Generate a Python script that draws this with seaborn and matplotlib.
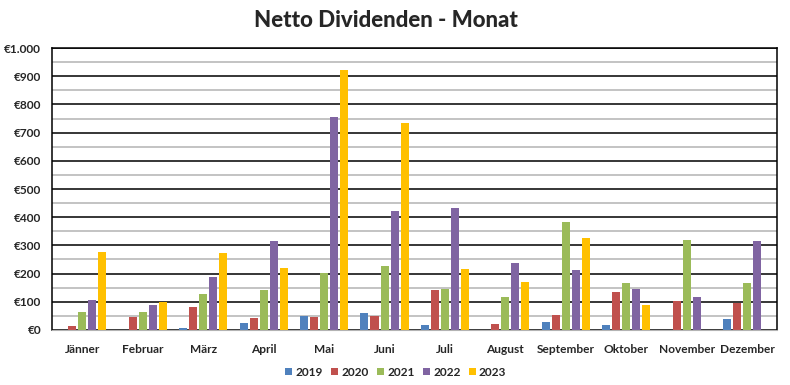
import pandas as pd
import matplotlib
matplotlib.use("Agg")
import matplotlib.pyplot as plt
import matplotlib.ticker as mticker
import seaborn as sns

months = ["Jänner", "Februar", "März", "April", "Mai", "Juni",
          "Juli", "August", "September", "Oktober", "November", "Dezember"]
years = ["2019", "2020", "2021", "2022", "2023"]

# None = kein Wert in dem Monat
v2019 = [None, None, 8, 26, 50, 60, 18, None, 28, 18, None, 40]
v2020 = [15, 47, 83, 44, 47, 50, 143, 21, 53, 136, 104, 97]
v2021 = [64, 64, 129, 143, 203, 227, 147, 118, 384, 168, 320, 168]
v2022 = [108, 90, 189, 317, 755, 423, 433, 239, 213, 147, 118, 317]
v2023 = [278, 100, 274, 221, 922, 734, 216, 171, 326, 89, None, None]

colors = ["#4F81BD", "#C0504D", "#9BBB59", "#8064A2", "#FFC000"]

rows = []
for y, vals in zip(years, [v2019, v2020, v2021, v2022, v2023]):
    for m, v in zip(months, vals):
        rows.append({"Monat": m, "Jahr": y, "Wert": v})
df = pd.DataFrame(rows)
df["Wert"] = df["Wert"].astype(float)

sns.set_style("white")
plt.rcParams["font.family"] = ["Lato", "DejaVu Sans"]

fig = plt.figure(figsize=(7.9, 3.85), dpi=100)
ax = fig.add_axes([0.066, 0.143, 0.918, 0.732])

sns.barplot(data=df, x="Monat", y="Wert", hue="Jahr", order=months,
            hue_order=years, palette=colors, width=0.83, gap=0.2,
            saturation=1, linewidth=0, ax=ax, legend=True)

ax.set_ylim(0, 1000)
ax.set_xlim(-0.5, 11.5)
ax.yaxis.set_major_locator(mticker.MultipleLocator(100))
ax.yaxis.set_minor_locator(mticker.MultipleLocator(50))
ax.yaxis.set_major_formatter(mticker.FuncFormatter(
    lambda v, p: "€" + f"{int(v):,}".replace(",", ".")))
ax.grid(axis="y", which="major", color="black", lw=1.1, zorder=0)
ax.grid(axis="y", which="minor", color="#b3b3b3", lw=1.1, zorder=0)
ax.set_axisbelow(True)
ax.tick_params(axis="both", which="both", length=0, labelsize=8.6)
ax.tick_params(axis="x", pad=10)
ax.tick_params(axis="y", pad=8)
for lab in ax.get_xticklabels() + ax.get_yticklabels():
    lab.set_fontweight("bold")
for s in ["top", "left", "right"]:
    ax.spines[s].set_color("black")
    ax.spines[s].set_linewidth(1.1)
ax.spines["bottom"].set_color("#b3b3b3")
ax.set_xlabel("")
ax.set_ylabel("")

ax.legend_.remove()
handles, labels = ax.get_legend_handles_labels()
fig.legend(handles[:5], labels[:5], loc="center", bbox_to_anchor=(0.501, 0.033),
           ncol=5, frameon=False, handlelength=0.6, handleheight=0.6,
           handletextpad=0.25, columnspacing=0.7,
           prop={"weight": "bold", "size": 8.6})

fig.suptitle("Netto Dividenden - Monat", x=0.489, y=0.975, fontsize=16,
             fontweight="black")

fig.savefig("out.png", dpi=100)
